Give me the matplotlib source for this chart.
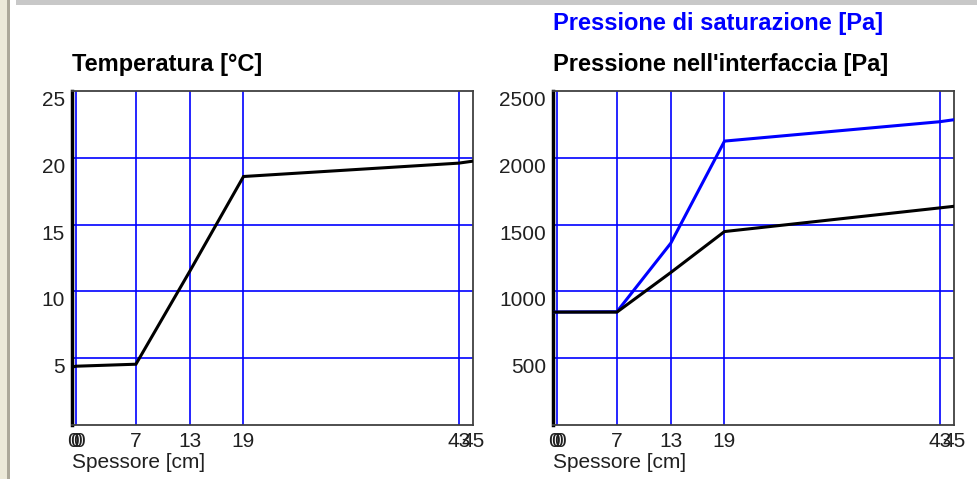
import matplotlib
matplotlib.use("Agg")
import matplotlib.pyplot as plt
from matplotlib.patches import Rectangle

# ---- data ----
x_pos = [0, 0.3, 7, 13, 19, 43, 44.6]
temperature = [4.35, 4.4, 4.55, 11.5, 18.6, 19.6, 19.75]
p_sat = [845, 846, 848, 1360, 2125, 2270, 2285]
p_int = [845, 845, 845, 1141, 1448, 1625, 1637]

x_ticks = [0, 0.3, 0.6, 7, 13, 19, 43, 44.6]
x_tick_labels = ["0", "0", "0", "7", "13", "19", "43", "45"]
grid_x = [0.3, 7, 13, 19, 43]
temp_ticks = [5, 10, 15, 20, 25]
press_ticks = [500, 1000, 1500, 2000, 2500]

title_temp = "Temperatura [°C]"
title_psat = "Pressione di saturazione [Pa]"
title_pint = "Pressione nell'interfaccia [Pa]"
xlabel = "Spessore [cm]"

W, H = 977, 479
plt.rcParams['font.family'] = ['Liberation Sans', 'DejaVu Sans']
fig = plt.figure(figsize=(W / 100, H / 100), dpi=100)
fig.patch.set_facecolor("white")

# window decorations
def px_rect(x0, y0, x1, y1, color):
    fig.patches.append(Rectangle((x0 / W, 1 - y1 / H), (x1 - x0) / W, (y1 - y0) / H,
                                 transform=fig.transFigure, facecolor=color,
                                 edgecolor="none", zorder=0))

px_rect(0, 0, 7, H, "#ece9d8")
px_rect(7, 0, 10, H, "#aca899")
px_rect(16, 0, W, 5, "#c8c8c8")

def make_axes(left_px, right_px, ylim, yticks, ylab_fmt):
    top_px, bot_px = 91, 425
    ax = fig.add_axes([left_px / W, 1 - bot_px / H, (right_px - left_px) / W, (bot_px - top_px) / H])
    ax.set_xlim(-0.13, 44.6)
    ax.set_ylim(*ylim)
    ax.set_xticks(x_ticks)
    ax.set_xticklabels(x_tick_labels)
    ax.set_yticks(yticks)
    ax.set_yticklabels([ylab_fmt(v) for v in yticks])
    ax.tick_params(length=0, labelsize=15, colors="#202020", pad=5)
    for lab in ax.get_yticklabels():
        lab.set_va("top")
    for gx in grid_x:
        ax.axvline(gx, color="#0000ff", lw=1.2, zorder=1)
    for gy in yticks[:-1]:
        ax.axhline(gy, color="#0000ff", lw=1.2, zorder=1)
    for s in ["top", "right", "bottom"]:
        ax.spines[s].set_color("#404040")
        ax.spines[s].set_linewidth(1.3)
    ax.spines["left"].set_color("black")
    ax.spines["left"].set_linewidth(2.5)
    ax.text(0, -0.085, xlabel, transform=ax.transAxes, ha="left", va="top",
            fontsize=15, color="#202020")
    return ax

ax1 = make_axes(72, 473, (0, 25), temp_ticks, lambda v: f"{v}")
ax1.plot(x_pos, temperature, color="black", lw=2.2, zorder=3, solid_joinstyle="miter")
ax1.text(0.0, 1.045, title_temp, transform=ax1.transAxes, ha="left", va="bottom",
         fontsize=17, fontweight="bold", color="black")

ax2 = make_axes(553, 954, (0, 2500), press_ticks, lambda v: f"{v}")
ax2.plot(x_pos, p_sat, color="#0000ff", lw=2.2, zorder=3)
ax2.plot(x_pos, p_int, color="black", lw=2.2, zorder=4)
ax2.text(0.0, 1.045, title_pint, transform=ax2.transAxes, ha="left", va="bottom",
         fontsize=17, fontweight="bold", color="black")
ax2.text(0.0, 1.168, title_psat, transform=ax2.transAxes, ha="left", va="bottom",
         fontsize=17, fontweight="bold", color="#0000ff")

fig.savefig("out.png", dpi=100, facecolor="white")
